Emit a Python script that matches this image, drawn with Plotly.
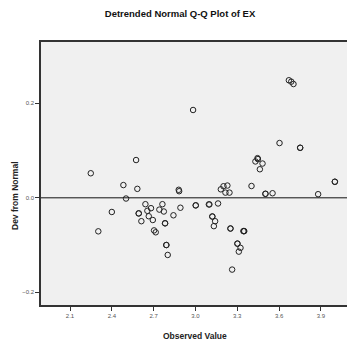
import plotly.graph_objects as go

# Observed values and their deviation from the fitted normal line
observed = [
    2.249, 2.400, 2.303, 2.983, 2.574, 2.483, 2.583, 2.880, 2.883, 2.502,
    2.641, 2.763, 2.681, 2.741, 2.773, 2.655, 2.593, 2.593, 2.665, 2.842,
    2.892, 2.694, 2.612, 2.782, 2.782, 2.703, 2.715, 2.791, 2.791, 2.801,
    3.002, 3.002, 3.096, 3.100, 3.670, 3.687, 3.703, 3.603, 3.751, 3.751,
    3.445, 3.448, 3.430, 3.481, 3.462, 4.000, 4.000, 3.402, 3.182, 3.201,
    3.229, 3.215, 3.244, 3.502, 3.502, 3.553, 3.880, 3.162, 3.121, 3.121,
    3.141, 3.132, 3.251, 3.251, 3.347, 3.350, 3.344, 3.301, 3.301, 3.323,
    3.311, 3.263,
]
deviation = [
    0.052, -0.030, -0.071, 0.186, 0.080, 0.027, 0.019, 0.017, 0.014, -0.0015,
    -0.0135, -0.0135, -0.022, -0.025, -0.029, -0.0275, -0.033, -0.033, -0.039, -0.037,
    -0.021, -0.047, -0.0495, -0.054, -0.054, -0.069, -0.073, -0.100, -0.100, -0.121,
    -0.016, -0.016, -0.014, -0.014, 0.249, 0.246, 0.241, 0.116, 0.106, 0.106,
    0.084, 0.082, 0.077, 0.0726, 0.0605, 0.034, 0.034, 0.025, 0.018, 0.0245,
    0.026, 0.011, 0.011, 0.0085, 0.0085, 0.0097, 0.0077, -0.012, -0.0396, -0.0396,
    -0.0495, -0.060, -0.065, -0.065, -0.0705, -0.0705, -0.0705, -0.097, -0.097, -0.106,
    -0.114, -0.152,
]

x_ticks = [2.1, 2.4, 2.7, 3.0, 3.3, 3.6, 3.9]
y_ticks = [-0.2, 0.0, 0.2]

FONT = "Liberation Sans, Arial, sans-serif"

fig = go.Figure()
fig.add_trace(go.Scatter(
    x=observed, y=deviation, mode="markers",
    marker=dict(symbol="circle-open", size=5.5, color="#222222",
                line=dict(width=1, color="#222222")),
    hoverinfo="x+y", showlegend=False,
))

# Reference line at zero deviation
fig.add_shape(type="line", xref="paper", yref="y", x0=0, x1=1, y0=0, y1=0,
              line=dict(color="#111111", width=1))

fig.update_layout(
    width=347, height=344,
    margin=dict(l=41, r=0, t=42, b=39),
    paper_bgcolor="white", plot_bgcolor="#f0f0f0",
    font=dict(family=FONT, color="#333333"),
    title=dict(text="<b>Detrended Normal Q-Q Plot of EX</b>",
               x=180 / 347, xanchor="center", y=1 - 14 / 344, yanchor="middle",
               font=dict(size=9.5, color="#111111")),
    xaxis=dict(range=[1.892, 4.087], tickvals=x_ticks, tickformat=".1f",
               showgrid=False, zeroline=False,
               showline=True, mirror=True, linecolor="#333333", linewidth=1.5,
               ticks="outside", ticklen=4, tickcolor="#333333",
               tickfont=dict(size=6, color="#555555")),
    yaxis=dict(range=[-0.227, 0.33], tickvals=y_ticks, tickformat=".1f",
               showgrid=False, zeroline=False,
               showline=True, linecolor="#333333", linewidth=1.5,
               ticks="outside", ticklen=4, tickcolor="#333333",
               tickfont=dict(size=6, color="#555555")),
    annotations=[
        dict(text="<b>Observed Value</b>", xref="paper", yref="paper",
             x=(195 - 41) / 306, y=-(336 - 305) / 263, xanchor="center", yanchor="middle",
             showarrow=False, font=dict(size=8.5, color="#222222")),
        dict(text="<b>Dev from Normal</b>", xref="paper", yref="paper",
             x=-(41 - 15) / 306, y=(305 - 196) / 263, xanchor="center", yanchor="middle",
             textangle=-90, showarrow=False, font=dict(size=8.5, color="#222222")),
    ],
)

fig.write_html("out.html")
